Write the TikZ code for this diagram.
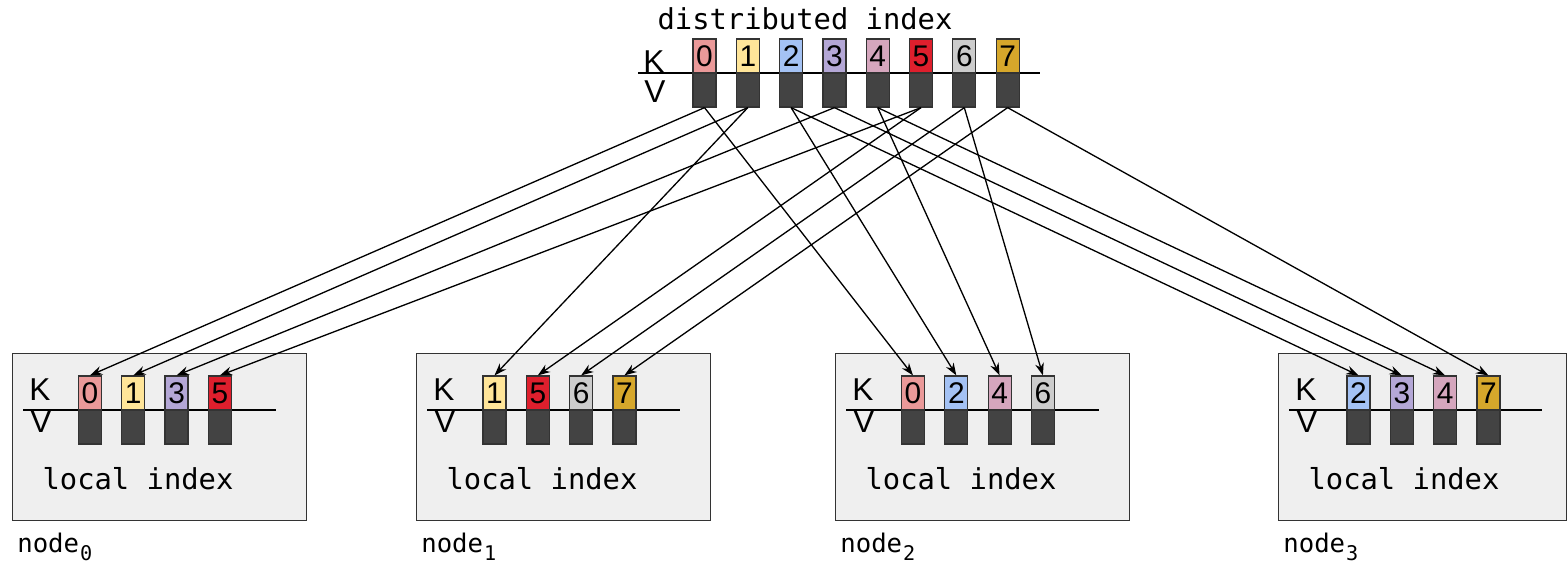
\documentclass[tikz,border=0pt]{standalone}
\usepackage{fontspec}
\setmainfont{Liberation Sans}
\setmonofont{DejaVu Sans Mono}
\usetikzlibrary{arrows.meta}
\definecolor{key0}{HTML}{EA9999}
\definecolor{key1}{HTML}{FFE599}
\definecolor{key2}{HTML}{A4C2F4}
\definecolor{key3}{HTML}{B4A7D6}
\definecolor{key4}{HTML}{D5A6BD}
\definecolor{key5}{HTML}{DE1F2D}
\definecolor{key6}{HTML}{CCCCCC}
\definecolor{key7}{HTML}{D6A72B}
\definecolor{valgray}{HTML}{434343}
\definecolor{boxgray}{HTML}{EFEFEF}
\definecolor{linegray}{HTML}{333333}

\begin{document}
\begin{tikzpicture}[x=0.02cm, y=-0.02cm,
        keycell/.style={rectangle, draw=linegray, line width=0.7pt, inner sep=0pt, minimum width=0.46cm, minimum height=0.68cm, font=\fontsize{17}{17}\selectfont},
        valcell/.style={keycell, fill=valgray},
        localbox/.style={rectangle, draw=linegray, fill=boxgray, line width=0.75pt, anchor=north west, inner sep=0pt, minimum height=3.34cm},
        kvlabel/.style={inner sep=0pt, font=\fontsize{18}{18}\selectfont},
        title/.style={inner sep=0pt, anchor=base, font=\ttfamily\fontsize{16.4}{16.4}\selectfont},
        hostlabel/.style={inner sep=0pt, anchor=base west, font=\ttfamily\fontsize{14.6}{14.6}\selectfont},
        arrow/.style={line width=0.75pt, -{Stealth[length=7pt, width=5pt]}}
    ]
        \useasboundingbox (0,0) rectangle (1567,566);

        % distributed index
        \node[title] (dtitle) at (805,29) {distributed index};
        \node[kvlabel] (dK) at (654,62) {K};
        \node[kvlabel] (dV) at (655,92) {V};
        \draw[line width=0.8pt] (638,73) -- (1040,73);
        \foreach \k in {0,...,7} {
            \node[keycell, fill=key\k] (dk\k) at (704.5+43.3*\k,56) {\k};
            \node[valcell] (dv\k) at (704.5+43.3*\k,90) {};
        }

        % local indexes
        \foreach \j/\L/\w in {0/12/294, 1/416/294, 2/835/294, 3/1278/288} {
            \node[localbox, minimum width=\w*0.02cm] (box\j) at (\L,353) {};
            \node[kvlabel] (K\j) at (\L+28,390) {K};
            \node[kvlabel] (V\j) at (\L+29,422) {V};
            \draw[line width=0.8pt] (\L+11,410) -- (\L+264,410);
            \node[title] (ltitle\j) at (\L+126,489) {local index};
            \node[hostlabel] (host\j) at (\L+5,552) {node\hspace{0.5pt}\raisebox{-5pt}{\fontsize{11.5}{11.5}\selectfont\j}};
        }

        \foreach \j/\L/\keys in {0/11.5/{0,1,3,5}, 1/416/{1,5,6,7}, 2/834.5/{0,2,4,6}, 3/1280/{2,3,4,7}} {
            \foreach \k [count=\m from 0] in \keys {
                \node[keycell, fill=key\k] (l\j-\k) at (\L+78.5+43.3*\m,393) {\k};
                \node[valcell] (lv\j-\k) at (\L+78.5+43.3*\m,427) {};
                \draw[arrow] (dv\k.south) -- (l\j-\k.north);
            }
        }
    \end{tikzpicture}
\end{document}
